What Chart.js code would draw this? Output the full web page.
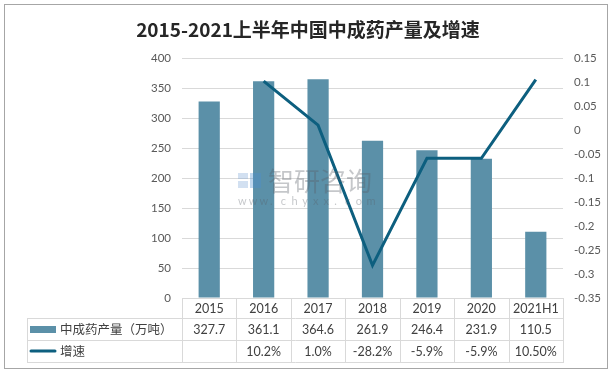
<!DOCTYPE html>
<html><head><meta charset="utf-8">
<script src="https://cdn.jsdelivr.net/npm/chart.js@4/dist/chart.umd.min.js"></script>
<style>html,body{margin:0;padding:0;background:#fff}#wrap{width:614px;height:375px;position:relative}</style>
</head><body><div id="wrap"><canvas id="c" width="614" height="375"></canvas></div>
<script>
const chartTitle = '2015-2021上半年中国中成药产量及增速';
const categories = ['2015','2016','2017','2018','2019','2020','2021H1'];
const production = [327.7,361.1,364.6,261.9,246.4,231.9,110.5];
const growthPct = [null,10.2,1.0,-28.2,-5.9,-5.9,10.5];
const productionLabels = ['327.7','361.1','364.6','261.9','246.4','231.9','110.5'];
const growthLabels = ['','10.2%','1.0%','-28.2%','-5.9%','-5.9%','10.50%'];
const seriesNames = ['中成药产量（万吨）','增速'];
const leftAxis = {min:0,max:400,step:50};
const rightAxis = {min:-0.35,max:0.15,step:0.05};

const BAR_COLOR = '#5B90A8';
const LINE_COLOR = '#0D5F7F';
const GRID = '#D9D9D9';
const TXT = '#404040';
const CJK = '"Noto Sans CJK SC","Noto Sans",sans-serif';
const LAT = 'Lato,"Noto Sans CJK SC",sans-serif';

const frame = {
  id:'frame',
  beforeDraw(chart){
    const c = chart.ctx;
    c.save();
    c.fillStyle='#fff'; c.fillRect(0,0,chart.width,chart.height);
    c.strokeStyle='#A6A6A6'; c.lineWidth=1;
    c.strokeRect(4.5,4.5,603,364);
    c.fillStyle='#262626';
    c.font='bold 19px '+CJK;
    c.textAlign='center'; c.textBaseline='middle';
    c.fillText(chartTitle,308,30);
    c.restore();
  }
};

const watermark = {
  id:'watermark',
  afterDatasetsDraw(chart){
    const c = chart.ctx;
    c.save();
    c.globalAlpha=0.35;
    c.fillStyle='#7DA7D6';
    c.fillRect(238,173,10,6);
    c.fillRect(238,181,10,7);
    c.fillStyle='#4A8FD0';
    c.fillRect(250,173,11,15);
    c.fillStyle='#5a5f66';
    c.font='26px '+CJK;
    c.textAlign='left'; c.textBaseline='middle';
    c.fillText('智研咨询',268,181);
    c.font='11px '+LAT;
    const s='www.chyxx.com';
    for(let i=0;i<s.length;i++){ c.fillText(s[i],238+i*10.7,201); }
    c.restore();
  }
};

const table = {
  id:'table',
  afterDraw(chart){
    const c = chart.ctx, x = chart.scales.x, a = chart.chartArea;
    const n = categories.length, w = (a.right-a.left)/n;
    const y0 = a.bottom, y1 = y0+20, y2 = y1+22, y3 = y2+22;
    const tl = 27;
    c.save();
    c.strokeStyle=GRID; c.lineWidth=1;
    c.beginPath();
    for(let i=0;i<=n;i++){
      const xx = Math.round(a.left+i*w)+0.5;
      c.moveTo(xx,y0); c.lineTo(xx,y3);
    }
    c.moveTo(tl+0.5,y1); c.lineTo(tl+0.5,y3);
    [y1,y2,y3].forEach(yy=>{c.moveTo(tl,yy+0.5); c.lineTo(Math.round(a.right)+1,yy+0.5);});
    c.stroke();
    c.fillStyle=TXT; c.font='12.5px '+LAT;
    c.textAlign='center'; c.textBaseline='middle';
    for(let i=0;i<n;i++){
      const cx = x.getPixelForValue(i);
      c.fillText(categories[i],cx,(y0+y1)/2+1);
      c.fillText(productionLabels[i],cx,(y1+y2)/2+1);
      c.fillText(growthLabels[i],cx,(y2+y3)/2+1);
    }
    c.fillStyle=BAR_COLOR; c.fillRect(30,(y1+y2)/2-3,26,7);
    c.strokeStyle=LINE_COLOR; c.lineWidth=3; c.lineCap='round';
    c.beginPath(); c.moveTo(31,(y2+y3)/2); c.lineTo(55,(y2+y3)/2); c.stroke();
    c.fillStyle=TXT; c.font='12.5px '+CJK; c.textAlign='left';
    c.fillText(seriesNames[0],60,(y1+y2)/2);
    c.fillText(seriesNames[1],60,(y2+y3)/2);
    c.restore();
  }
};

new Chart(document.getElementById('c'),{
  data:{
    labels:categories,
    datasets:[
      {type:'line',label:seriesNames[1],data:growthPct.map(v=>v==null?null:v/100),yAxisID:'y1',
       borderColor:LINE_COLOR,borderWidth:3,pointRadius:0,tension:0,fill:false,order:0,spanGaps:false},
      {type:'bar',label:seriesNames[0],data:production,yAxisID:'y',backgroundColor:BAR_COLOR,
       categoryPercentage:1,barPercentage:0.39,order:1}
    ]
  },
  options:{
    responsive:false,animation:false,devicePixelRatio:1,
    layout:{padding:{top:58,bottom:77,left:0,right:0}},
    plugins:{legend:{display:false},tooltip:{enabled:false},title:{display:false}},
    scales:{
      x:{display:false,offset:true},
      y:{position:'left',min:leftAxis.min,max:leftAxis.max,
         ticks:{stepSize:leftAxis.step,padding:11,color:'#595959',font:{family:LAT,size:11.5}},
         grid:{color:GRID,drawTicks:false},border:{display:false},
         afterFit(s){s.width=182;}},
      y1:{position:'right',min:rightAxis.min,max:rightAxis.max,
         ticks:{stepSize:rightAxis.step,padding:11,color:'#595959',font:{family:LAT,size:11.5},
           callback:v=>String(parseFloat(Number(v).toFixed(2)))},
         grid:{display:false,drawTicks:false},border:{display:false},
         afterFit(s){s.width=51;}}
    }
  },
  plugins:[frame,watermark,table]
});
</script></body></html>
